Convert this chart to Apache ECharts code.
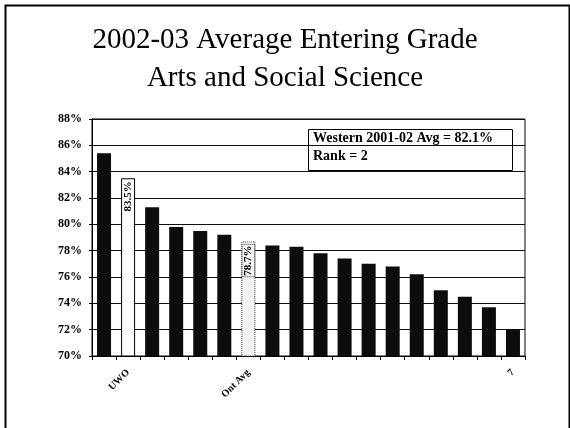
<!DOCTYPE html>
<html>
<head>
<meta charset="utf-8">
<script src="https://cdn.jsdelivr.net/npm/echarts@6/dist/echarts.min.js"></script>
<style>html,body{margin:0;padding:0;background:#fff}#c{width:570px;height:428px}</style>
</head>
<body>
<div id="c"></div>
<script>
const titleLines = ['2002-03 Average Entering Grade', 'Arts and Social Science'];
const categories = ['', 'UWO', '', '', '', '', 'Ont Avg', '', '', '', '', '', '', '', '', '', '', '7'];
const values = [85.4, 83.5, 81.3, 79.8, 79.5, 79.2, 78.7, 78.4, 78.3, 77.8, 77.4, 77.0, 76.8, 76.2, 75.0, 74.5, 73.7, 72.0];
const uwoIndex = 1;
const ontIndex = 6;
const boxLines = ['Western 2001-02 Avg = 82.1%', 'Rank = 2'];
const yMin = 70, yMax = 88, yStep = 2;

const serif = '"Liberation Serif", "Times New Roman", serif';
const chart = echarts.init(document.getElementById('c'), null, {renderer: 'canvas'});

const data = values.map((v, i) => {
  if (i === uwoIndex) {
    return {
      value: v,
      itemStyle: {color: '#ffffff', borderColor: '#000', borderWidth: 1},
      label: {show: true}
    };
  }
  if (i === ontIndex) {
    return {
      value: v,
      itemStyle: {color: '#f3f3f3', borderColor: '#444', borderWidth: 1, borderType: 'dotted'},
      label: {show: true, borderColor: '#444', borderWidth: 1, borderType: 'dotted', padding: [1, 1]}
    };
  }
  return {value: v};
});

chart.setOption({
  animation: false,
  backgroundColor: '#fff',
  title: {
    text: titleLines.join('\n'),
    left: 'center',
    top: 16,
    textStyle: {fontFamily: serif, fontSize: 29, fontWeight: 'normal', color: '#000', lineHeight: 38}
  },
  grid: {left: 92, right: 45, top: 119, bottom: 72, show: true, borderColor: '#000', borderWidth: 1, backgroundColor: 'transparent'},
  xAxis: {
    type: 'category',
    data: categories,
    axisLine: {lineStyle: {color: '#000', width: 1}},
    axisTick: {show: true, length: 4, lineStyle: {color: '#000'}},
    axisLabel: {
      interval: 0, rotate: 45, margin: 15,
      fontFamily: serif, fontSize: 10, fontWeight: 'bold', color: '#000'
    }
  },
  yAxis: {
    type: 'value',
    min: yMin, max: yMax, interval: yStep,
    axisLine: {show: true, lineStyle: {color: '#000', width: 1}},
    axisTick: {show: true, length: 3, lineStyle: {color: '#000'}},
    splitLine: {lineStyle: {color: '#111', width: 1}},
    axisLabel: {
      formatter: '{value}%', margin: 10,
      fontFamily: serif, fontSize: 12, fontWeight: 'bold', color: '#000'
    }
  },
  series: [{
    type: 'bar',
    data: data,
    barWidth: 14,
    itemStyle: {color: '#0c0c0c'},
    label: {
      show: false,
      position: 'insideTop',
      rotate: 90,
      align: 'right',
      verticalAlign: 'middle',
      distance: 3,
      formatter: p => p.value.toFixed(1) + '%',
      fontFamily: serif, fontSize: 11, fontWeight: 'bold', color: '#000'
    }
  }],
  graphic: [
    {
      type: 'rect', left: 3, top: 3,
      shape: {width: 564, height: 440},
      style: {fill: 'none', stroke: '#000', lineWidth: 2},
      silent: true
    },
    {
      type: 'rect', left: 306, top: 127,
      shape: {width: 204, height: 41},
      style: {fill: 'none', stroke: '#000', lineWidth: 1},
      z: 10
    },
    {
      type: 'text', left: 313, top: 131,
      style: {text: boxLines[0], font: 'bold 14px ' + serif, fill: '#000'},
      z: 11
    },
    {
      type: 'text', left: 313, top: 149,
      style: {text: boxLines[1], font: 'bold 14px ' + serif, fill: '#000'},
      z: 11
    }
  ]
});
</script>
</body>
</html>
